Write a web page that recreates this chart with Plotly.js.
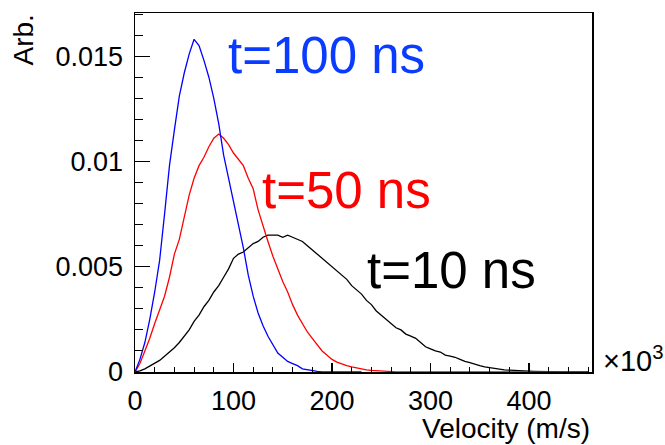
<!DOCTYPE html>
<html>
<head>
<meta charset="utf-8">
<script src="https://cdn.plot.ly/plotly-3.0.1.min.js"></script>
<style>
html,body{margin:0;padding:0;background:#fff;}
#chart{width:665px;height:445px;}
</style>
</head>
<body>
<div id="chart"></div>
<script>
// Velocity bin centres (x10^3 m/s)
const velocity = [0,5,10,15,20,25,30,35,40,45,50,55,60,65,70,75,80,85,90,95,100,105,110,115,120,125,130,135,140,145,150,155,160,165,170,175,180,185,190,195,200,205,210,215,220,225,230,235,240,245,250,255,260,265,270,275,280,285,290,295,300,305,310,315,320,325,330,335,340,345,350,355,360,365,370,375,380,385,390,395,400,405,410,415,420,425,430,435,440,445,450,455,460];

// t = 100 ns (blue), covers 0..230
const t100 = [0,0.0006,0.0014,0.0025,0.0038,0.0053,0.0075,0.0098,0.0115,0.0131,0.0142,0.0151,0.0158,0.0155,0.0148,0.0140,0.0130,0.0118,0.0103,0.0092,0.0081,0.0070,0.0059,0.0046,0.0036,0.0028,0.0022,0.0017,0.0013,0.0009,0.0007,0.0005,0.0004,0.0003,0.00015,0.0001,0.00005,0.00003,0.00001,0,0,0,0,0,0,0,0];

// t = 50 ns (red)
const t50 = [0,0.0004,0.0010,0.0016,0.0023,0.0030,0.0036,0.0045,0.0056,0.0063,0.0073,0.0084,0.0092,0.0098,0.0102,0.0107,0.0111,0.0113,0.0111,0.0108,0.0104,0.0101,0.0098,0.0092,0.0087,0.0077,0.0069,0.0062,0.0055,0.0049,0.0043,0.0038,0.0032,0.0027,0.0023,0.0019,0.0016,0.0013,0.0010,0.0008,0.0006,0.00047,0.00038,0.0003,0.00024,0.00019,0.00015,0.0001,0.00008,0.00006,0.00004,0.00003,0.00002,0.00001,0,0,0,0,0,0,0,0,0,0,0,0,0,0,0,0,0,0,0,0,0,0,0,0,0,0,0,0,0,0,0,0,0,0,0,0,0,0,0];

// t = 10 ns (black)
const t10 = [0,0.00005,0.00015,0.00028,0.0004,0.00055,0.00075,0.00093,0.00115,0.0014,0.0017,0.002,0.0024,0.0027,0.0031,0.0034,0.0038,0.0041,0.0045,0.0049,0.0054,0.0056,0.0057,0.0059,0.0061,0.0062,0.0064,0.0065,0.0065,0.0065,0.0064,0.0065,0.0064,0.0063,0.0062,0.0060,0.0058,0.0056,0.0054,0.0052,0.0050,0.0048,0.0046,0.0044,0.0041,0.0039,0.0037,0.0034,0.0032,0.0029,0.0027,0.0025,0.0023,0.0021,0.0020,0.0018,0.0017,0.0016,0.0014,0.0012,0.0011,0.0010,0.00095,0.0008,0.00075,0.0007,0.0006,0.0005,0.00045,0.00036,0.0003,0.00024,0.0002,0.00016,0.00013,0.0001,0.00009,0.00007,0.00006,0.00005,0.00004,0.00003,0.00002,0.00002,0.00001,0,0,0,0,0,0,0,0];

const xTicks = [0,100,200,300,400];
const yTicks = [0,0.005,0.01,0.015];
const yTickText = ['0','0.005','0.01','0.015'];

const F = '"Liberation Sans", Arial, Helvetica, sans-serif';

const traces = [
  {x: velocity.slice(0, t10.length), y: t10, name: 't=10 ns', mode: 'lines', line: {color: '#000000', width: 1.3}},
  {x: velocity.slice(0, t50.length), y: t50, name: 't=50 ns', mode: 'lines', line: {color: '#ff0000', width: 1.3}},
  {x: velocity.slice(0, t100.length), y: t100, name: 't=100 ns', mode: 'lines', line: {color: '#0000ff', width: 1.3}}
];

const layout = {
  width: 665, height: 445,
  margin: {l: 135, r: 73, t: 13, b: 73, pad: 0},
  paper_bgcolor: '#fff', plot_bgcolor: '#fff',
  showlegend: false,
  font: {family: F, size: 27, color: '#000'},
  xaxis: {
    range: [0, 464], showgrid: false, zeroline: false,
    showline: true, linecolor: '#000', linewidth: 1.5, mirror: true,
    ticks: 'inside', ticklen: 9, tickwidth: 1.3, tickcolor: '#000',
    tickvals: xTicks, ticktext: xTicks.map(String),
    tickfont: {family: F, size: 27, color: '#000'},
    ticklabelstandoff: 4,
    minor: {dtick: 20, ticks: 'inside', ticklen: 5, tickwidth: 1, tickcolor: '#000', showgrid: false}
  },
  yaxis: {
    range: [0, 0.01705], showgrid: false, zeroline: false,
    showline: true, linecolor: '#000', linewidth: 1.5, mirror: true,
    ticks: 'inside', ticklen: 15, tickwidth: 1.3, tickcolor: '#000',
    tickvals: yTicks, ticktext: yTickText,
    tickfont: {family: F, size: 27, color: '#000'},
    ticklabelstandoff: 5,
    minor: {dtick: 0.001, ticks: 'inside', ticklen: 7.5, tickwidth: 1, tickcolor: '#000', showgrid: false}
  },
  annotations: [
    {text: 't=100 ns', xref: 'x', yref: 'y', x: 92.5, y: 0.01505, xanchor: 'left', yanchor: 'middle', showarrow: false, font: {family: F, size: 51, color: '#0a3cff'}},
    {text: 't=50 ns', xref: 'x', yref: 'y', x: 127, y: 0.00862, xanchor: 'left', yanchor: 'middle', showarrow: false, font: {family: F, size: 51, color: '#ff0000'}},
    {text: 't=10 ns', xref: 'x', yref: 'y', x: 233.5, y: 0.00484, xanchor: 'left', yanchor: 'middle', showarrow: false, font: {family: F, size: 51, color: '#000000'}},
    {text: 'Arb.', xref: 'paper', yref: 'paper', x: -0.245, y: 1.0, xanchor: 'center', yanchor: 'top', textangle: -90, showarrow: false, font: {family: F, size: 28, color: '#000'}},
    {text: 'Velocity (m/s)', xref: 'paper', yref: 'paper', x: 1.0, y: -0.11, xanchor: 'right', yanchor: 'top', showarrow: false, font: {family: F, size: 28, color: '#000'}},
    {text: '\u00d710<sup>3</sup>', xref: 'paper', yref: 'paper', x: 1.02, y: 0.035, xanchor: 'left', yanchor: 'middle', showarrow: false, font: {family: F, size: 29, color: '#000'}}
  ]
};

Plotly.newPlot('chart', traces, layout, {displayModeBar: false, staticPlot: true});
</script>
</body>
</html>
